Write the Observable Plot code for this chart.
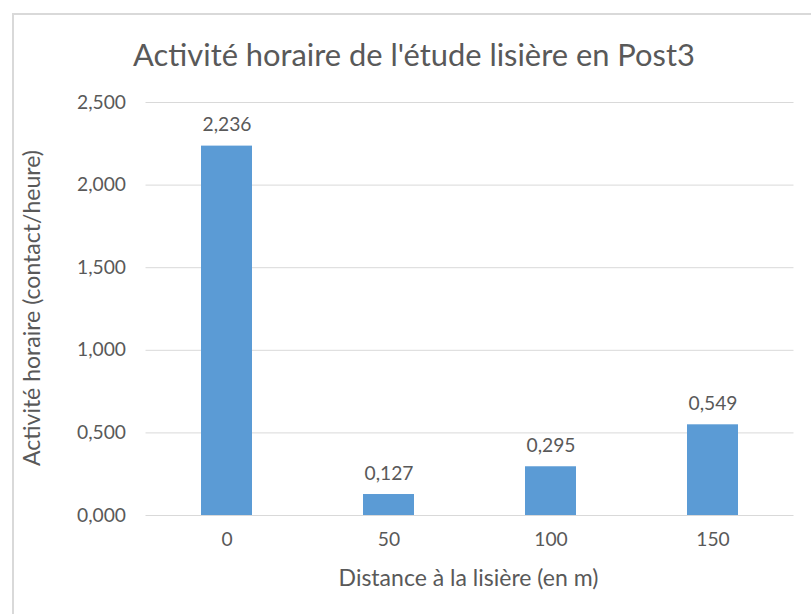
<!DOCTYPE html>
<html><head><meta charset="utf-8">
<script src="https://cdn.jsdelivr.net/npm/d3@7"></script>
<script src="https://cdn.jsdelivr.net/npm/@observablehq/plot@0.6"></script>
<style>
html,body{margin:0;padding:0;background:#fff;overflow:hidden;}
#frame{position:absolute;left:12px;top:13px;width:799px;height:601px;border-top:2px solid #d9d9d9;border-left:2px solid #d9d9d9;box-sizing:border-box;font-family:Lato,sans-serif;color:#595959;}
#title{height:70px;line-height:80px;text-align:center;color:#595959;padding-left:3px;white-space:nowrap;}
#chart svg{display:block;overflow:visible;}
</style></head><body>
<div id="frame"><div id="title"></div><div id="chart"></div></div>
<script>
const title = "Activité horaire de l'étude lisière en Post3";
const xLabel = "Distance à la lisière (en m)";
const yLabel = "Activité horaire (contact/heure)";
const distances = ["0", "50", "100", "150"];
const activity = [2.236, 0.127, 0.295, 0.549];
const yTicks = [0, 0.5, 1, 1.5, 2, 2.5];
const data = distances.map((d, i) => ({distance: d, value: activity[i]}));
const fmt = v => d3.format(".3f")(v).replace(".", ",");

const FONT = "Lato";
const ctx = document.createElement("canvas").getContext("2d");
function fit(text, target) { ctx.font = `100px ${FONT}`; return 100 * target / ctx.measureText(text).width; }
const titleSize = fit(title, 562);
const tickSize = fit("2,500", 49);
const axisTitleSize = fit(xLabel, 260);

const t = document.getElementById("title");
t.textContent = title;
t.style.fontSize = titleSize + "px";

const chart = Plot.plot({
  width: 797, height: 529,
  marginTop: 17, marginBottom: 99, marginLeft: 131.5, marginRight: 17.5,
  style: {fontFamily: FONT, fontSize: tickSize + "px", color: "#595959", background: "transparent", overflow: "visible"},
  x: {domain: distances, paddingInner: 0.685, paddingOuter: 0.3425, label: null, tickSize: 0, tickPadding: 17},
  y: {domain: [0, 2.5], ticks: yTicks, tickFormat: fmt, label: null, tickSize: 0, tickPadding: 20},
  marks: [
    Plot.gridY(yTicks, {stroke: "#d9d9d9", strokeOpacity: 1}),
    Plot.barY(data, {x: "distance", y: "value", fill: "#5b9bd5"}),
    Plot.text(data, {x: "distance", y: "value", text: d => fmt(d.value), dy: -21, fill: "#595959", fontSize: tickSize}),
    Plot.text([xLabel], {frameAnchor: "bottom", textAnchor: "middle", lineAnchor: "middle", dy: 63, dx: -1.5, text: d => d, fill: "#595959", fontSize: axisTitleSize}),
    Plot.text([yLabel], {frameAnchor: "left", textAnchor: "middle", lineAnchor: "middle", dx: -113.5, dy: -1, rotate: -90, text: d => d, fill: "#595959", fontSize: axisTitleSize})
  ]
});
document.getElementById("chart").appendChild(chart);
</script>
</body></html>
